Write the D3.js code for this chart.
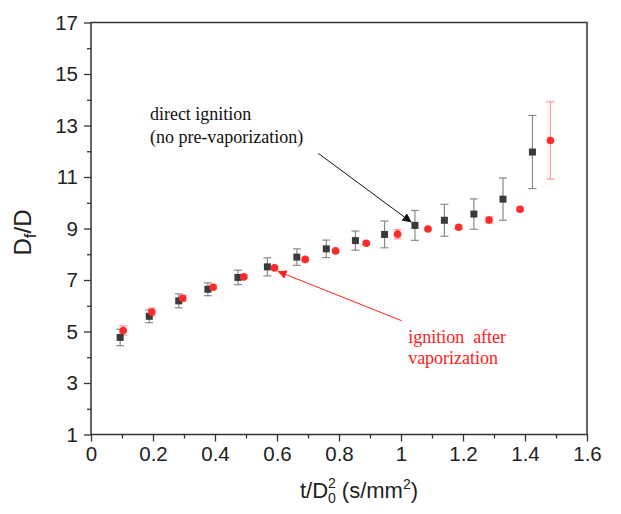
<!DOCTYPE html>
<html>
<head>
<meta charset="utf-8">
<script src="https://cdn.jsdelivr.net/npm/d3@7"></script>
<style>
  body { margin: 0; background: #fff; }
  svg { display: block; }
</style>
</head>
<body>
<svg id="chart" width="621" height="514"></svg>
<script>
// direct ignition (black squares)
const xDirect = [0.094, 0.188, 0.283, 0.377, 0.474, 0.569, 0.664, 0.759, 0.853, 0.947, 1.045, 1.140, 1.235, 1.329, 1.424];
const yDirect = [4.77, 5.59, 6.19, 6.64, 7.10, 7.51, 7.89, 8.21, 8.53, 8.77, 9.12, 9.32, 9.56, 10.14, 11.97];
const errDirect = [0.32, 0.25, 0.27, 0.25, 0.28, 0.35, 0.32, 0.34, 0.37, 0.52, 0.58, 0.62, 0.59, 0.82, 1.42];

// ignition after vaporization (red circles)
const xVapor = [0.104, 0.196, 0.296, 0.394, 0.493, 0.592, 0.691, 0.789, 0.888, 0.989, 1.087, 1.186, 1.284, 1.384, 1.482];
const yVapor = [5.04, 5.76, 6.29, 6.72, 7.12, 7.47, 7.80, 8.13, 8.43, 8.78, 8.98, 9.05, 9.33, 9.75, 12.42];
const errVapor = [0.18, 0.15, 0.12, 0.08, 0.06, 0.05, 0.05, 0.05, 0.06, 0.18, 0.05, 0.08, 0.12, 0.08, 1.50];

const xTicks = [0, 0.2, 0.4, 0.6, 0.8, 1, 1.2, 1.4, 1.6];
const xMinor = [0.1, 0.3, 0.5, 0.7, 0.9, 1.1, 1.3, 1.5];
const yTicks = [1, 3, 5, 7, 9, 11, 13, 15, 17];
const yMinor = [2, 4, 6, 8, 10, 12, 14, 16];

const svg = d3.select('#chart');
const margin = { top: 22.5, right: 34, bottom: 79.5, left: 91 };
const W = 621, H = 514;

const x = d3.scaleLinear().domain([0, 1.6]).range([margin.left, W - margin.right]);
const y = d3.scaleLinear().domain([1, 17]).range([H - margin.bottom, margin.top]);

const axisColor = '#333';
const labelFont = 'Arial, "Liberation Sans", sans-serif';

// frame
svg.append('rect')
    .attr('x', x(0)).attr('y', y(17))
    .attr('width', x(1.6) - x(0)).attr('height', y(1) - y(17))
    .style('fill', 'none').style('stroke', axisColor).style('stroke-width', 1.5);

// x axis
const xAxis = svg.append('g').attr('transform', `translate(0,${y(1)})`);
xAxis.call(d3.axisBottom(x).tickValues(xTicks).tickSize(7).tickPadding(5).tickFormat(d3.format('~g')));
xAxis.append('g').call(d3.axisBottom(x).tickValues(xMinor).tickSize(4).tickFormat(''));

const yAxis = svg.append('g').attr('transform', `translate(${x(0)},0)`);
yAxis.call(d3.axisLeft(y).tickValues(yTicks).tickSize(7).tickPadding(6));
yAxis.append('g').call(d3.axisLeft(y).tickValues(yMinor).tickSize(4).tickFormat(''));

svg.selectAll('.domain').remove();
svg.selectAll('.tick line').style('stroke', axisColor).style('stroke-width', 1.3);
svg.selectAll('.tick text')
    .style('font-family', labelFont).style('font-size', '20.5px').style('fill', '#222');

// axis titles
svg.append('text')
    .attr('transform', `translate(31,${(y(17) + y(1)) / 2 + 4}) rotate(-90)`)
    .attr('text-anchor', 'middle')
    .style('font-family', labelFont).style('font-size', '24px').style('fill', '#222')
    .html('D<tspan dy="5" font-size="17px">f</tspan><tspan dy="-5">/D</tspan>');

svg.append('text')
    .attr('x', (x(0) + x(1.6)) / 2 + 20).attr('y', 498)
    .attr('text-anchor', 'middle')
    .style('font-family', labelFont).style('font-size', '22px').style('fill', '#222')
    .html('t/D<tspan font-size="14px" dy="-10">2</tspan><tspan font-size="14px" dx="-8" dy="15">0</tspan><tspan dy="-5"> (s/mm</tspan><tspan font-size="14px" dy="-9">2</tspan><tspan dy="9">)</tspan>');

// series
const direct = xDirect.map((v, i) => ({ x: v, y: yDirect[i], e: errDirect[i] }));
const vapor = xVapor.map((v, i) => ({ x: v, y: yVapor[i], e: errVapor[i] }));

function errorBars(data, color, cls) {
    const g = svg.append('g').attr('class', cls);
    const cap = 4;
    g.selectAll('line.bar').data(data).enter().append('line')
        .attr('x1', d => x(d.x)).attr('x2', d => x(d.x))
        .attr('y1', d => y(d.y - d.e)).attr('y2', d => y(d.y + d.e))
        .style('stroke', color).style('stroke-width', 1.2);
    g.selectAll('line.top').data(data).enter().append('line')
        .attr('x1', d => x(d.x) - cap).attr('x2', d => x(d.x) + cap)
        .attr('y1', d => y(d.y + d.e)).attr('y2', d => y(d.y + d.e))
        .style('stroke', color).style('stroke-width', 1.2);
    g.selectAll('line.bot').data(data).enter().append('line')
        .attr('x1', d => x(d.x) - cap).attr('x2', d => x(d.x) + cap)
        .attr('y1', d => y(d.y - d.e)).attr('y2', d => y(d.y - d.e))
        .style('stroke', color).style('stroke-width', 1.2);
}

errorBars(direct, '#8a8a8a', 'err-direct');
errorBars(vapor, '#ff9a9a', 'err-vapor');

svg.append('g').selectAll('rect').data(direct).enter().append('rect')
    .attr('x', d => x(d.x) - 3.5).attr('y', d => y(d.y) - 3.5)
    .attr('width', 7).attr('height', 7)
    .style('fill', '#3a3a3a');

svg.append('g').selectAll('circle').data(vapor).enter().append('circle')
    .attr('cx', d => x(d.x)).attr('cy', d => y(d.y)).attr('r', 3.8)
    .style('fill', '#ff2a2a');

// annotations
const defs = svg.append('defs');
[['arrow-black', '#111'], ['arrow-red', '#ff2020']].forEach(([id, c]) => {
    defs.append('marker')
        .attr('id', id).attr('viewBox', '0 0 10 10')
        .attr('refX', 10).attr('refY', 5)
        .attr('markerWidth', 9).attr('markerHeight', 9)
        .attr('markerUnits', 'userSpaceOnUse')
        .attr('orient', 'auto')
        .append('path').attr('d', 'M0,0 L10,5 L0,10 z').style('fill', c);
});

svg.append('line')
    .attr('x1', x(0.733)).attr('y1', y(11.92))
    .attr('x2', x(1.034)).attr('y2', y(9.24))
    .style('stroke', '#111').style('stroke-width', 1)
    .attr('marker-end', 'url(#arrow-black)');

svg.append('line')
    .attr('x1', x(1.002)).attr('y1', y(5.42))
    .attr('x2', x(0.602)).attr('y2', y(7.34))
    .style('stroke', '#ff2020').style('stroke-width', 1)
    .attr('marker-end', 'url(#arrow-red)');

const serif = '"Liberation Serif", "Times New Roman", serif';
const notes = [
    { text: 'direct ignition', x: 0.19, y: 13.2, color: '#111' },
    { text: '(no pre-vaporization)', x: 0.19, y: 12.32, color: '#111' },
    { text: 'ignition  after', x: 1.023, y: 4.55, color: '#ff1a1a' },
    { text: 'vaporization', x: 1.023, y: 3.72, color: '#ff1a1a' }
];
svg.append('g').selectAll('text').data(notes).enter().append('text')
    .attr('x', d => x(d.x)).attr('y', d => y(d.y))
    .style('font-family', serif).style('font-size', '18px')
    .style('white-space', 'pre')
    .style('fill', d => d.color)
    .text(d => d.text);
</script>
</body>
</html>
